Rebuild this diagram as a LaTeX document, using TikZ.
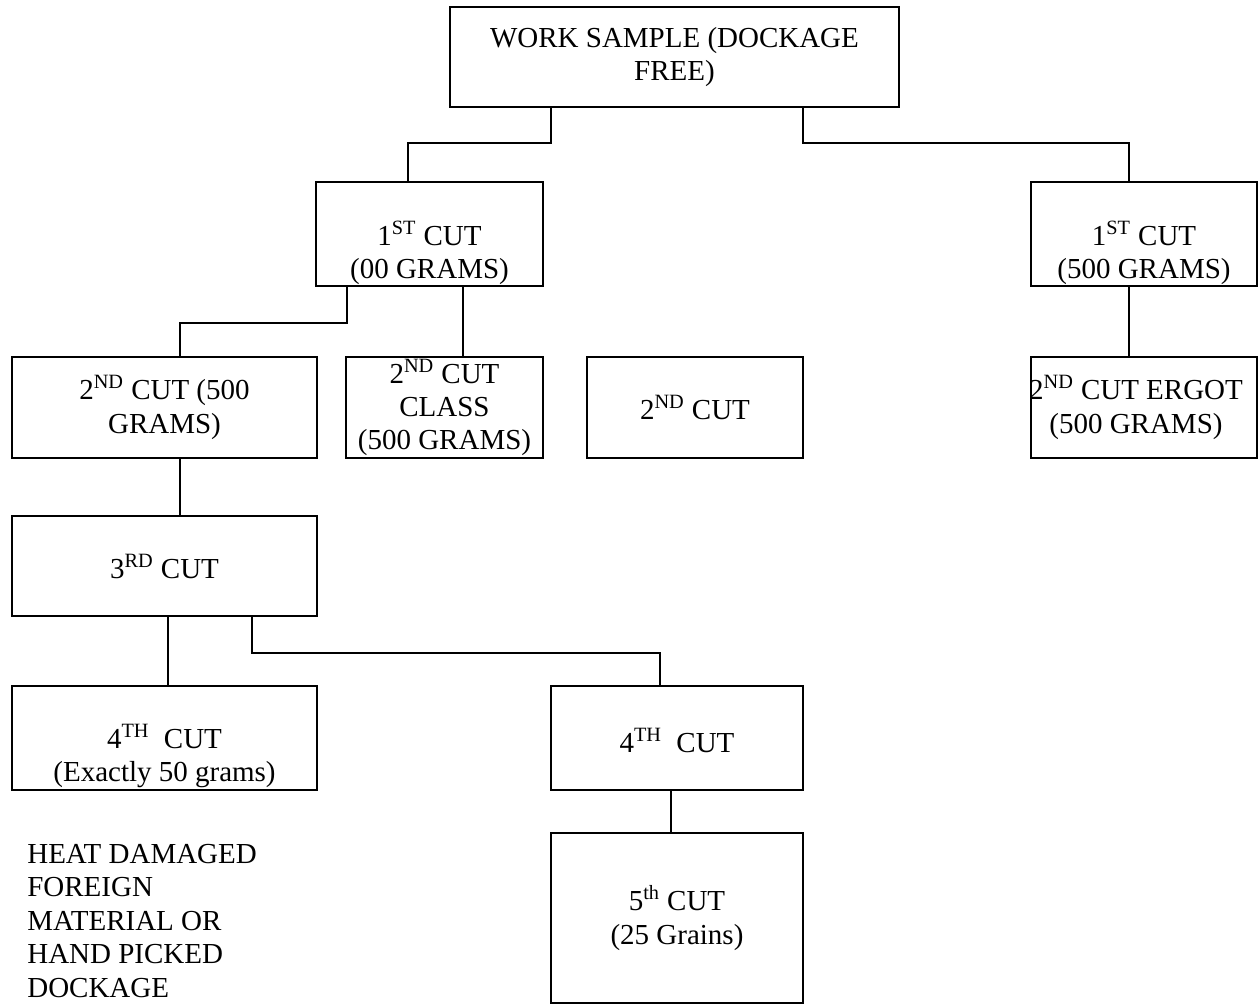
\documentclass[tikz,border=0pt]{standalone}
\usepackage{fontspec}
\setmainfont{Liberation Serif}
\usetikzlibrary{fit}

\tikzset{
    box/.style={draw, line width=1.1pt, inner sep=0pt},
    txt/.style={align=center, inner sep=0pt, font=\fontsize{16.5}{19}\selectfont},
    link/.style={line width=1.1pt},
}

\begin{document}
\begin{tikzpicture}[x=0.02cm, y=-0.02cm]
\useasboundingbox (0,0) rectangle (1259,1005);

%% Boxes
\node[box, fit={(450,7) (899,107)}] (ws) {};
\node[box, fit={(316,182) (543,286)}] (cutAl) {};
\node[box, fit={(1031,182) (1257,286)}] (cutAr) {};
\node[box, fit={(12,357) (317,458)}] (cutBa) {};
\node[box, fit={(346,357) (543,458)}] (cutBb) {};
\node[box, fit={(587,357) (803,458)}] (cutBc) {};
\node[box, fit={(1031,357) (1257,458)}] (cutBd) {};
\node[box, fit={(12,516) (317,616)}] (cutC) {};
\node[box, fit={(12,686) (317,790)}] (cutDa) {};
\node[box, fit={(551,686) (803,790)}] (cutDb) {};
\node[box, fit={(551,833) (803,1003)}] (cutE) {};

%% Texts
\node[txt] (tws) at (ws.center) {WORK SAMPLE (DOCKAGE\\FREE)};
\node[txt] (tcutAl) at ([yshift=-0.38cm]cutAl.center) {1\textsuperscript{ST} CUT\\(00 GRAMS)};
\node[txt] (tcutAr) at ([yshift=-0.38cm]cutAr.center) {1\textsuperscript{ST} CUT\\(500 GRAMS)};
\node[txt] (tcutBa) at (cutBa.center) {2\textsuperscript{ND} CUT (500\\GRAMS)};
\node[txt] (tcutBb) at (cutBb.center) {2\textsuperscript{ND} CUT\\CLASS\\(500 GRAMS)};
\node[txt] (tcutBc) at (cutBc.center) {2\textsuperscript{ND} CUT};
\node[txt] (tcutBd) at ([xshift=-0.16cm]cutBd.center) {2\textsuperscript{ND} CUT ERGOT\\(500 GRAMS)};
\node[txt] (tcutC) at (cutC.center) {3\textsuperscript{RD} CUT};
\node[txt] (tcutDa) at ([yshift=-0.36cm]cutDa.center) {4\textsuperscript{TH}\ \ CUT\\(Exactly 50 grams)};
\node[txt] (tcutDb) at ([yshift=-0.04cm]cutDb.center) {4\textsuperscript{TH}\ \ CUT};
\node[txt] (tcutE) at (cutE.center) {5\textsuperscript{th} CUT\\(25 Grains)};
\node[txt, align=left, anchor=north west] (note) at (27,844)
    {HEAT DAMAGED\\FOREIGN\\MATERIAL OR\\HAND PICKED\\DOCKAGE};

%% Connectors
\draw[link] (ws.south -| 551,0) -- ++(0,35) -| (cutAl.north -| 408,0);
\draw[link] (ws.south -| 803,0) -- ++(0,35) -| (cutAr.north -| 1129,0);
\draw[link] (cutAl.south -| 347,0) -- ++(0,36) -| (cutBa.north -| 180,0);
\draw[link] (cutAl.south -| 463,0) -- (cutBb.north -| 463,0);
\draw[link] (cutAr.south -| 1129,0) -- (cutBd.north -| 1129,0);
\draw[link] (cutBa.south -| 180,0) -- (cutC.north -| 180,0);
\draw[link] (cutC.south -| 168,0) -- (cutDa.north -| 168,0);
\draw[link] (cutC.south -| 252,0) -- ++(0,36) -| (cutDb.north -| 660,0);
\draw[link] (cutDb.south -| 671,0) -- (cutE.north -| 671,0);
\end{tikzpicture}
\end{document}
